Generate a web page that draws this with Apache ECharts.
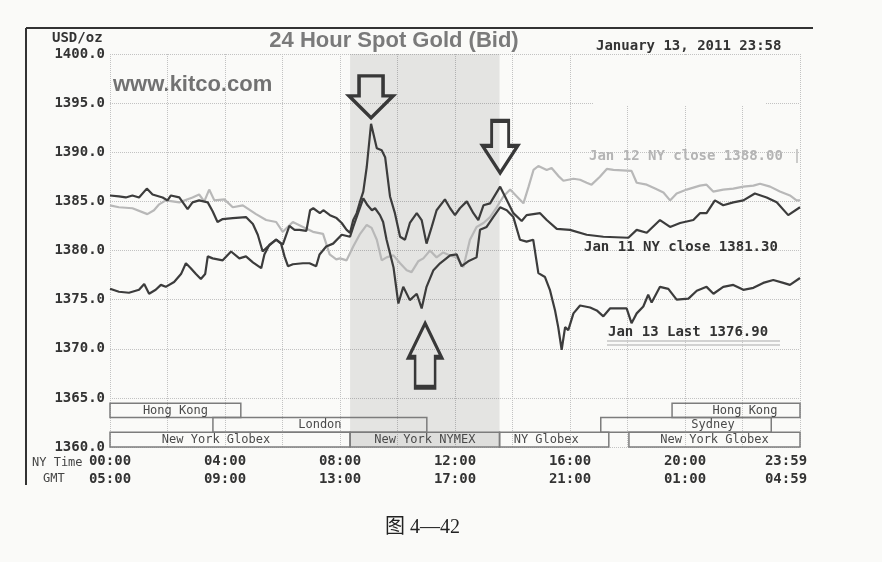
<!DOCTYPE html>
<html>
<head>
<meta charset="utf-8">
<script src="https://cdn.jsdelivr.net/npm/echarts@6/dist/echarts.min.js"></script>
<style>
html, body { margin: 0; padding: 0; background: #fafaf8; }
#chart { width: 882px; height: 562px; }
</style>
</head>
<body>
<div id="chart"></div>
<script>
// [hour of NY day, USD/oz]
var jan13 = [[0,1385.6],[0.31,1385.5],[0.55,1385.4],[0.78,1385.6],[1.01,1385.4],[1.28,1386.3],[1.48,1385.7],[1.83,1385.4],[2.0,1385.1],[2.12,1385.6],[2.41,1385.4],[2.70,1384.2],[2.87,1384.9],[3.10,1385.1],[3.40,1384.9],[3.57,1384.0],[3.74,1382.9],[3.92,1383.2],[4.27,1383.3],[4.73,1383.4],[4.97,1382.7],[5.14,1381.6],[5.31,1379.9],[5.49,1380.4],[5.78,1381.1],[5.95,1380.7],[6.07,1379.4],[6.19,1378.4],[6.36,1378.6],[6.71,1378.7],[6.94,1378.7],[7.17,1378.4],[7.29,1379.6],[7.52,1380.4],[7.76,1380.7],[8.06,1381.6],[8.35,1381.4],[8.46,1382.4],[8.64,1383.9],[8.81,1385.3],[8.96,1384.6],[9.11,1384.1],[9.22,1384.3],[9.39,1383.6],[9.50,1382.9],[9.62,1381.1],[9.86,1378.3],[10.03,1374.6],[10.20,1376.3],[10.43,1374.95],[10.67,1375.6],[10.84,1374.1],[11.01,1376.3],[11.25,1378.0],[11.48,1378.7],[11.83,1379.5],[12.06,1379.6],[12.23,1378.4],[12.46,1378.9],[12.75,1379.3],[12.87,1382.1],[13.10,1382.4],[13.33,1383.4],[13.57,1384.4],[13.80,1384.1],[14.03,1383.4],[14.26,1381.1],[14.49,1380.9],[14.72,1381.1],[14.90,1377.7],[15.13,1377.3],[15.30,1376.0],[15.48,1373.9],[15.59,1372.2],[15.71,1369.9],[15.83,1372.2],[15.94,1371.9],[16.12,1373.6],[16.35,1374.4],[16.70,1374.2],[16.93,1373.9],[17.16,1373.3],[17.39,1374.1],[17.97,1374.1],[18.14,1372.6],[18.32,1373.6],[18.55,1374.3],[18.72,1375.5],[18.84,1374.7],[19.13,1376.3],[19.42,1376.1],[19.71,1375.0],[20.12,1375.1],[20.41,1375.9],[20.75,1376.3],[20.99,1375.6],[21.33,1376.3],[21.68,1376.5],[22.03,1376.0],[22.38,1376.2],[22.72,1376.7],[23.07,1377.0],[23.42,1376.7],[23.65,1376.5],[24,1377.2]];

var jan11 = [[0,1376.1],[0.31,1375.8],[0.66,1375.7],[1.01,1376.0],[1.19,1376.6],[1.36,1375.6],[1.59,1376.0],[1.77,1376.5],[1.94,1376.3],[2.23,1376.8],[2.47,1377.6],[2.64,1378.7],[2.81,1378.2],[2.99,1377.6],[3.16,1377.1],[3.31,1377.6],[3.40,1379.4],[3.57,1379.2],[3.92,1379.0],[4.21,1379.9],[4.50,1379.2],[4.73,1379.4],[4.97,1378.8],[5.26,1378.2],[5.37,1379.6],[5.55,1380.6],[5.78,1381.1],[6.01,1380.6],[6.24,1382.5],[6.42,1382.1],[6.59,1382.1],[6.83,1382.0],[6.96,1384.1],[7.07,1384.3],[7.30,1383.8],[7.42,1384.1],[7.65,1383.6],[7.88,1383.3],[8.06,1382.8],[8.23,1382.1],[8.35,1381.8],[8.46,1383.1],[8.58,1383.8],[8.70,1385.0],[8.81,1386.0],[8.93,1388.5],[9.08,1392.9],[9.28,1390.4],[9.45,1390.2],[9.57,1389.5],[9.74,1385.5],[9.91,1383.8],[10.09,1381.4],[10.26,1381.1],[10.43,1382.8],[10.67,1383.8],[10.84,1383.1],[11.01,1380.7],[11.19,1382.4],[11.36,1384.1],[11.65,1385.2],[11.83,1384.3],[12.0,1383.6],[12.17,1384.3],[12.41,1385.0],[12.64,1383.8],[12.81,1383.1],[12.99,1384.6],[13.22,1384.8],[13.57,1386.5],[13.74,1385.5],[14.03,1383.8],[14.32,1383.0],[14.49,1383.6],[14.96,1383.8],[15.19,1383.1],[15.54,1382.2],[16.0,1382.1],[16.58,1381.6],[17.16,1381.4],[18.03,1381.3],[18.32,1382.1],[18.67,1381.8],[19.13,1383.1],[19.48,1382.4],[19.83,1382.8],[20.29,1383.1],[20.52,1383.8],[20.75,1383.8],[21.04,1385.1],[21.33,1384.6],[21.68,1384.9],[22.03,1385.1],[22.43,1385.8],[22.84,1385.4],[23.19,1384.9],[23.59,1383.6],[24,1384.4]];

var jan12 = [[0,1384.6],[0.31,1384.4],[0.78,1384.3],[1.30,1383.7],[1.53,1384.1],[1.71,1384.7],[1.94,1385.1],[2.41,1384.9],[2.87,1385.4],[3.10,1385.7],[3.28,1385.0],[3.45,1386.2],[3.63,1385.1],[3.98,1385.2],[4.27,1384.4],[4.62,1384.6],[5.08,1383.7],[5.43,1383.1],[5.78,1382.9],[6.01,1381.9],[6.36,1382.9],[6.71,1382.4],[7.06,1381.9],[7.41,1381.7],[7.64,1379.6],[7.87,1379.1],[8.0,1379.2],[8.23,1379.0],[8.46,1380.4],[8.70,1381.7],[8.93,1382.6],[9.10,1382.3],[9.28,1381.1],[9.45,1379.0],[9.62,1379.3],[9.86,1379.5],[10.09,1378.7],[10.32,1378.0],[10.49,1377.8],[10.72,1378.9],[10.90,1379.2],[11.13,1380.0],[11.36,1379.3],[11.59,1379.8],[11.83,1379.5],[12.06,1379.3],[12.29,1378.3],[12.52,1381.1],[12.75,1382.4],[12.99,1382.8],[13.22,1383.4],[13.45,1384.4],[13.68,1385.5],[13.92,1386.2],[14.15,1385.5],[14.38,1384.8],[14.56,1386.5],[14.73,1388.2],[14.90,1388.6],[15.19,1388.2],[15.36,1388.4],[15.59,1387.6],[15.77,1387.1],[16.12,1387.3],[16.35,1387.2],[16.58,1386.9],[16.75,1386.7],[17.04,1387.5],[17.28,1388.3],[17.51,1388.2],[18.14,1388.1],[18.32,1386.9],[18.67,1386.7],[18.96,1386.3],[19.25,1385.9],[19.48,1385.1],[19.71,1385.8],[20.06,1386.2],[20.52,1386.6],[20.75,1386.7],[20.98,1386.0],[21.33,1386.2],[21.68,1386.3],[22.03,1386.5],[22.38,1386.6],[22.61,1386.8],[22.96,1386.5],[23.30,1386.0],[23.65,1385.6],[23.88,1385.1],[24,1385.1]];

var nyTimes = ['00:00', '04:00', '08:00', '12:00', '16:00', '20:00', '23:59'];
var gmtTimes = ['05:00', '09:00', '13:00', '17:00', '21:00', '01:00', '04:59'];

// trading sessions (NY hours) and the row of the strip they sit in
var sessionNames = ['Hong Kong', 'London', 'New York Globex', 'New York NYMEX', 'NY Globex', 'New York Globex', 'Sydney', 'Hong Kong'];
var sessionStart = [0, 3.58, 0, 8.35, 13.55, 18.05, 17.07, 19.55];
var sessionEnd   = [4.55, 11.02, 8.35, 13.55, 17.35, 24, 23.0, 24];
var sessionRow   = [0, 1, 2, 2, 2, 2, 1, 0];
var rowTop    = [1364.45, 1363.0, 1361.5];
var rowBottom = [1363.0, 1361.5, 1360];
var labelShift = [0, 0, -14, 0, -8, 0, 27, 9];

var nymexFrom = 8.35, nymexTo = 13.55;

// arrows drawn on the scan: [hour, price at tip, direction]
var arrows = [[9.08, 1393.5, 'down'], [13.57, 1387.9, 'down'], [10.96, 1372.6, 'up']];

var closeNotes = [
    { text: 'Jan 12 NY close 1388.00', x: 589, y: 156, color: '#b4b4b4' },
    { text: 'Jan 11 NY close 1381.30', x: 584, y: 247, color: '#333' },
    { text: 'Jan 13 Last 1376.90', x: 608, y: 332, color: '#333' }
];

var MONO = "'DejaVu Sans Mono', monospace";

var sessionAreas = sessionNames.map(function (name, i) {
    var r = sessionRow[i];
    return [
        {
            name: name,
            coord: [sessionStart[i], rowTop[r]],
            itemStyle: {
                color: i === 3 ? 'rgba(0,0,0,0.11)' : 'rgba(0,0,0,0)',
                borderColor: '#7c7c7c',
                borderWidth: 1.5
            },
            label: { offset: [labelShift[i], 0] }
        },
        { coord: [sessionEnd[i], rowBottom[r]] }
    ];
});

var downPath1 = 'path://M10,0L34,0L34,20L44,20L22,42L0,20L10,20Z';
var downPath2 = 'path://M9,0L26,0L26,25L35,25L17.5,52L0,25L9,25Z';
var upPath = 'path://M16.5,0L33,34L26.5,34L26.5,64L6.5,64L6.5,34L0,34Z';
var arrowShapes = [[downPath1, [44, 42]], [downPath2, [35, 52]], [upPath, [33, 64]]];

var arrowMarks = arrows.map(function (a, i) {
    return {
        coord: [a[0], a[1]],
        symbol: arrowShapes[i][0],
        symbolSize: arrowShapes[i][1],
        symbolOffset: [0, a[2] === 'down' ? '-50%' : '50%']
    };
});

var graphics = [
    { type: 'line', shape: { x1: 26, y1: 28, x2: 813, y2: 28 }, style: { stroke: '#333', lineWidth: 2 } },
    { type: 'line', shape: { x1: 26, y1: 28, x2: 26, y2: 485 }, style: { stroke: '#333', lineWidth: 2 } },
    { type: 'rect', shape: { x: 593, y: 56, width: 172, height: 50 }, style: { fill: '#fafaf8' }, z: 2 },
    { type: 'text', x: 394, y: 41, style: { text: '24 Hour Spot Gold (Bid)', font: 'bold 22px "Liberation Sans", Arial, sans-serif', fill: '#7a7a7a', align: 'center', verticalAlign: 'middle' } },
    { type: 'text', x: 52, y: 38, style: { text: 'USD/oz', font: 'bold 14px ' + MONO, fill: '#333', verticalAlign: 'middle' } },
    { type: 'text', x: 596, y: 46, style: { text: 'January 13, 2011 23:58', font: 'bold 14px ' + MONO, fill: '#333', verticalAlign: 'middle' } },
    { type: 'text', x: 113, y: 85, style: { text: 'www.kitco.com', font: 'bold 22px "Liberation Sans", Arial, sans-serif', fill: '#727272', verticalAlign: 'middle' } },
    { type: 'text', x: 32, y: 463, style: { text: 'NY Time', font: '12px ' + MONO, fill: '#444', verticalAlign: 'middle' } },
    { type: 'text', x: 43, y: 479, style: { text: 'GMT', font: '12px ' + MONO, fill: '#444', verticalAlign: 'middle' } },
    { type: 'line', shape: { x1: 797, y1: 149, x2: 797, y2: 163 }, style: { stroke: '#bbb', lineWidth: 1.5 } },
    { type: 'line', shape: { x1: 607, y1: 341, x2: 780, y2: 341 }, style: { stroke: '#aaa', lineWidth: 1 } },
    { type: 'line', shape: { x1: 607, y1: 345, x2: 780, y2: 345 }, style: { stroke: '#aaa', lineWidth: 1 } },
    { type: 'text', x: 385, y: 528, style: { text: '图 4—42', font: '20px "Liberation Serif", "Noto Sans CJK SC", serif', fill: '#222', verticalAlign: 'middle' } }
];
closeNotes.forEach(function (n) {
    graphics.push({ type: 'text', x: n.x, y: n.y, z: 10, style: { text: n.text, font: 'bold 14px ' + MONO, fill: n.color, verticalAlign: 'middle' } });
});

var chart = echarts.init(document.getElementById('chart'));
chart.setOption({
    animation: false,
    backgroundColor: '#fafaf8',
    grid: { left: 110, right: 82, top: 54, bottom: 115 },
    xAxis: {
        type: 'value',
        min: 0,
        max: 24,
        interval: 2,
        axisLine: { show: false },
        axisTick: { show: false },
        splitLine: { lineStyle: { color: '#c2c2c2', type: 'dotted', width: 1 } },
        axisLabel: {
            margin: 5,
            lineHeight: 18,
            fontFamily: MONO,
            fontWeight: 'bold',
            fontSize: 14,
            color: '#333',
            formatter: function (v) {
                if (v % 4 !== 0) return '';
                var i = v / 4;
                if (i === 6) return '{last|' + nyTimes[i] + '}\n{last|' + gmtTimes[i] + '}';
                return nyTimes[i] + '\n' + gmtTimes[i];
            },
            rich: {
                last: {
                    fontFamily: MONO, fontWeight: 'bold', fontSize: 14, color: '#333',
                    lineHeight: 18, padding: [0, 28, 0, 0]
                }
            }
        }
    },
    yAxis: {
        type: 'value',
        min: 1360,
        max: 1400,
        interval: 5,
        axisLine: { show: false },
        axisTick: { show: false },
        splitLine: { lineStyle: { color: '#c2c2c2', type: 'dotted', width: 1 } },
        axisLabel: {
            margin: 5,
            fontFamily: MONO,
            fontWeight: 'bold',
            fontSize: 14,
            color: '#333',
            formatter: function (v) { return v.toFixed(1); }
        }
    },
    graphic: graphics,
    series: [
        {
            type: 'line',
            data: [],
            z: 1,
            silent: true,
            markArea: {
                silent: true,
                itemStyle: { color: 'rgba(0,0,0,0.085)' },
                data: [[{ coord: [nymexFrom, rowTop[2]] }, { coord: [nymexTo, 1400] }]]
            }
        },
        {
            name: 'Jan 12',
            type: 'line',
            data: jan12,
            z: 3,
            symbol: 'none',
            silent: true,
            lineStyle: { color: '#b8b8b8', width: 2.2 }
        },
        {
            name: 'Jan 11',
            type: 'line',
            data: jan11,
            z: 4,
            symbol: 'none',
            silent: true,
            lineStyle: { color: '#3c3c3c', width: 2.2 }
        },
        {
            name: 'Jan 13',
            type: 'line',
            data: jan13,
            z: 4,
            symbol: 'none',
            silent: true,
            lineStyle: { color: '#3c3c3c', width: 2.2 },
            markPoint: {
                silent: true,
                label: { show: false },
                itemStyle: { color: 'rgba(0,0,0,0)', borderColor: '#383838', borderWidth: 3.5 },
                data: arrowMarks
            }
        },
        {
            type: 'line',
            data: [],
            z: 5,
            silent: true,
            markArea: {
                silent: true,
                label: {
                    show: true,
                    position: 'inside',
                    fontFamily: MONO,
                    fontSize: 12,
                    color: '#4a4a4a'
                },
                data: sessionAreas
            }
        }
    ]
});
</script>
</body>
</html>
